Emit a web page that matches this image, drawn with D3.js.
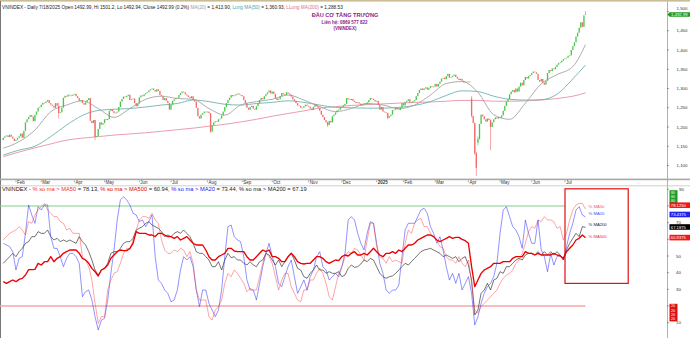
<!DOCTYPE html>
<html>
<head>
<meta charset="utf-8">
<script src="https://cdn.jsdelivr.net/npm/d3@7"></script>
<style>
html, body { margin: 0; padding: 0; background: #fff; }
svg { display: block; font-family: "Liberation Sans", Arial, sans-serif; }
</style>
</head>
<body>
<svg id="chart" width="690" height="338"></svg>
<script>
// ---------- trading calendar (HOSE) ----------
const firstSession = "2024-01-22";
const lastSession = "2025-07-18";
const holidays = ["2024-02-08","2024-02-09","2024-02-12","2024-02-13","2024-02-14","2024-04-18",
  "2024-04-29","2024-04-30","2024-05-01","2024-09-02","2024-09-03","2025-01-01","2025-01-27",
  "2025-01-28","2025-01-29","2025-01-30","2025-01-31","2025-04-07","2025-04-30","2025-05-01","2025-05-02"];

// ---------- VN-Index daily sessions ----------
const opens = [
  1166,1172,1176,1178,1174,1180,1175,1170,
  1164,1167,1172,1176,1183,1172,1190,1212,1220,1226,1231,1227,1215,1232,1240,1250,
  1252,1258,1263,1262,1266,1270,1262,1258,1255,1250,1262,1255,1236,1238,1250,1276,1281,1279,1284,1282,1281,
  1284,1286,1280,1275,1268,1270,1262,1258,1264,1270,1275,1216,1210,1218,1174,1176,1195,1212,1206,
  1210,1220,1218,1221,1242,1246,1241,1236,1237,1240,1252,1266,1273,1279,1278,1281,1284,1270,1272,1274,1262,1254,
  1261,1277,1282,1280,1285,1288,1290,1295,1298,1300,1296,1292,1298,1294,1283,1280,1270,1275,1268,1262,
  1245,1258,1268,1272,1275,1276,1283,1288,1292,1290,1285,1282,1278,1275,1280,1270,1266,1250,1228,1222,1232,1236,1240,
  1238,1240,1236,1188,1205,1212,1215,1214,1220,1222,1230,1240,1252,1262,1270,1276,1283,1280,1282,1285,1287,1284,
  1283,1280,1270,1262,1250,1245,1252,1255,1248,1245,1254,1262,1270,1275,1272,1280,1285,1290,1295,
  1287,1292,1286,1275,1270,1272,1280,1288,1285,1283,1290,1287,1284,1279,1272,1268,1262,1256,1255,1250,1250,1254,1258,
  1255,1253,1248,1244,1252,1258,1254,1250,1242,1232,1226,1218,1212,1205,1216,1212,1228,1232,1238,1243,1245,
  1250,1252,1256,1260,1275,1272,1270,1273,1268,1265,1262,1264,1261,1256,1258,1261,1259,1264,1270,1275,1273,1270,
  1266,1268,1257,1245,1252,1240,1238,1236,1224,1228,1232,1244,1245,1250,1246,1244,1250,
  1262,1256,1265,1268,1272,1264,1264,1267,1270,1280,1288,1296,1300,1296,1300,1303,1297,1301,1306,1304,
  1305,1312,1305,1312,1318,1326,1328,1324,1332,1338,1328,1330,1333,1336,1330,1326,1322,1325,1320,1316,1318,
  1317,1318,1274,1229,1210,1132,1160,1168,1208,1232,1228,1220,1214,1222,1218,1200,1212,1220,1225,1222,
  1226,1224,1230,1242,1255,1266,1272,1285,1292,1296,1290,1300,1292,1305,1315,1308,1322,1330,1326,1332,
  1335,1340,1344,1342,1338,1322,1318,1325,1315,1310,1320,1340,1348,1345,1352,1350,1356,1362,1366,1368,1372,
  1376,1378,1380,1385,1386,1400,1410,1420,1435,1445,1458,1472,1460,1492.99
];
const closes = [
  1172,1176,1178,1174,1180,1175,1170,1164,
  1167,1172,1176,1183,1172,1190,1212,1220,1226,1231,1227,1215,1232,1240,1250,1252,
  1258,1263,1262,1266,1270,1262,1258,1255,1250,1262,1255,1236,1238,1250,1276,1281,1279,1284,1282,1281,1284,
  1286,1280,1275,1268,1270,1262,1258,1264,1270,1275,1216,1210,1218,1174,1176,1195,1212,1206,1210,
  1220,1218,1221,1242,1246,1241,1236,1237,1240,1252,1266,1273,1279,1278,1281,1284,1270,1272,1274,1262,1254,1261,
  1277,1282,1280,1285,1288,1290,1295,1298,1300,1296,1292,1298,1294,1283,1280,1270,1275,1268,1262,1245,
  1258,1268,1272,1275,1276,1283,1288,1292,1290,1285,1282,1278,1275,1280,1270,1266,1250,1228,1222,1232,1236,1240,1238,
  1240,1236,1188,1205,1212,1215,1214,1220,1222,1230,1240,1252,1262,1270,1276,1283,1280,1282,1285,1287,1284,1283,
  1280,1270,1262,1250,1245,1252,1255,1248,1245,1254,1262,1270,1275,1272,1280,1285,1290,1295,1287,
  1292,1286,1275,1270,1272,1280,1288,1285,1283,1290,1287,1284,1279,1272,1268,1262,1256,1255,1250,1250,1254,1258,1255,
  1253,1248,1244,1252,1258,1254,1250,1242,1232,1226,1218,1212,1205,1216,1212,1228,1232,1238,1243,1245,1250,
  1252,1256,1260,1275,1272,1270,1273,1268,1265,1262,1264,1261,1256,1258,1261,1259,1264,1270,1275,1273,1270,1266,
  1268,1257,1245,1252,1240,1238,1236,1224,1228,1232,1244,1245,1250,1246,1244,1250,1262,
  1256,1265,1268,1272,1264,1264,1267,1270,1280,1288,1296,1300,1296,1300,1303,1297,1301,1306,1304,1305,
  1312,1305,1312,1318,1326,1328,1324,1332,1338,1328,1330,1333,1336,1330,1326,1322,1325,1320,1316,1318,1317,
  1318,1317,1229,1210,1132,1094,1168,1208,1232,1228,1220,1214,1222,1218,1200,1212,1220,1225,1222,1226,
  1224,1230,1242,1255,1266,1272,1285,1292,1296,1290,1300,1292,1305,1315,1308,1322,1330,1326,1332,1335,
  1340,1344,1342,1338,1322,1318,1325,1315,1310,1320,1340,1348,1345,1352,1350,1356,1362,1366,1368,1372,1376,
  1378,1380,1385,1386,1400,1410,1420,1435,1445,1458,1472,1460,1490,1492.99
];
// intraday extremes [high, low] for sessions whose range extends past the body
const wicks = {
  "2024-03-18": [1263, 1222],
  "2024-04-19": [1218, 1166],
  "2024-08-05": [1236, 1185],
  "2024-11-19": [1214, 1200],
  "2025-01-13": [1237, 1220],
  "2025-04-03": [1280, 1225],
  "2025-04-08": [1212, 1128],
  "2025-04-09": [1135, 1073],
  "2025-04-10": [1175, 1152],
  "2025-04-22": [1220, 1140],
  "2025-07-18": [1501.2, 1492.94]
};

// moving averages, one value every 10 sessions plus the final session
const maEvery = 10;
const ma20 = [1145,1162,1192,1240,1257,1268,1248,1225,1248,1272,1280,1274,1272,1248,1231,1257,1266,1272,1283,1270,
  1253,1240,1248,1261,1257,1248,1257,1283,1313,1318,1290,1232,1220,1262,1312,1336,1357,1413.90];
const ma50 = [1127,1140,1150,1175,1205,1230,1243,1246,1248,1252,1257,1261,1270,1266,1259,1257,1261,1264,1268,1264,
  1257,1251,1250,1249,1249,1251,1256,1266,1282,1294,1292,1280,1272,1270,1271,1285,1325,1360.93];
const ma200 = [1123,1135,1146,1156,1166,1171,1175,1179,1182,1185,1189,1193,1197,1202,1207,1213,1220,1228,1235,1242,
  1249,1253,1256,1258,1260,1262,1264,1265,1267,1269,1269,1267,1267,1268,1270,1274,1280,1288.53];

// market breadth: % of stocks above each moving average, every 2nd session
const breadthEvery = 2;
const pctMA20 = [57.6,56.6,55.6,52.6,41.6,48.6,49.6,63.6,80.6,74.6,69.6,79.6,77.6,80.6,80.6,61.6,54.6,54.6,49.6,43.6,
  48.6,51.6,51.6,49.6,45.6,25.6,28.6,29.6,23.6,13.6,5.6,11.6,12.6,23.6,39.6,53.6,71.6,83.6,85.6,83.6,
  80.6,75.6,74.6,70.6,71.6,67.6,70.6,74.6,49.6,35.6,33.6,29.6,27.6,22.6,23.6,29.6,41.6,49.6,47.6,49.6,
  43.6,29.6,19.6,29.6,29.6,21.6,17.6,13.6,17.6,29.6,49.6,67.6,
  68.6,61.6,59.6,58.6,49.6,35.6,29.6,29.6,23.6,33.6,43.6,51.6,57.6,49.6,43.6,33.6,31.6,37.6,43.6,47.6,
  37.6,27.6,31.6,35.6,29.6,37.6,41.6,49.6,52.6,43.6,41.6,35.6,37.6,39.6,37.6,43.6,51.6,71.6,73.6,71.6,
  63.6,57.6,53.6,63.6,70.6,69.6,57.6,45.6,39.6,29.6,27.6,29.6,29.6,32.6,49.6,65.6,69.6,69.6,69.6,73.6,
  77.6,78.6,75.6,
  67.6,63.6,57.6,61.6,53.6,43.6,35.6,39.6,33.6,39.6,29.6,33.6,37.6,27.6,8.6,13.6,21.6,27.6,31.6,33.6,
  37.6,45.6,63.6,77.6,79.6,73.6,67.6,65.6,61.6,54.6,71.6,63.6,57.6,57.6,71.6,53.6,49.6,40.6,51.6,44.6,
  49.6,50.6,47.6,55.6,63.6,69.6,77.6,79.6,74.6,73.4375];
const pctMA50 = [59.6,61.6,63.6,64.6,65.6,67.6,65.6,62.6,70.6,69.6,74.6,77.6,79.6,81.6,77.6,75.6,73.6,73.6,70.6,69.6,
  65.6,66.6,63.6,63.6,63.6,49.6,47.6,43.6,35.6,21.6,9.6,13.6,13.6,29.6,35.6,39.6,40.6,45.6,51.6,54.6,
  53.6,59.6,65.6,71.6,73.6,73.6,72.6,75.6,71.6,69.6,59.6,53.6,51.6,51.6,53.6,52.6,54.6,53.6,49.6,52.6,
  45.6,29.6,23.6,23.6,23.6,13.6,11.6,17.6,19.6,23.6,33.6,39.6,
  37.6,41.6,39.6,36.6,33.6,28.6,30.6,29.6,29.6,37.6,45.6,51.6,49.6,45.6,37.6,29.6,35.6,39.6,39.6,31.6,
  27.6,23.6,22.6,29.6,29.6,35.6,35.6,39.6,42.6,39.6,33.6,25.6,23.6,31.6,39.6,43.6,49.6,52.6,51.6,54.6,
  53.6,50.6,47.6,59.6,69.6,69.6,55.6,49.6,48.6,45.6,49.6,46.6,47.6,46.6,45.6,57.6,65.6,63.6,69.6,71.6,
  72.6,67.6,67.6,
  63.6,61.6,59.6,55.6,54.6,49.6,47.6,47.6,45.6,49.6,45.6,43.6,47.6,33.6,17.6,15.6,19.6,21.6,23.6,25.6,
  27.6,29.6,33.6,36.6,38.6,39.6,41.6,45.6,47.6,51.6,57.6,64.6,67.6,66.6,71.6,70.6,73.6,71.6,71.6,70.6,
  66.6,67.6,59.6,63.6,71.6,77.6,80.6,81.6,81.6,78.125];
const pctMA200 = [45.6,47.6,49.6,51.6,49.6,52.6,54.6,57.6,58.6,61.6,61.6,64.6,63.6,63.6,65.6,61.6,59.6,60.6,58.6,59.6,
  58.6,59.6,58.6,57.6,61.6,58.6,56.6,52.6,47.6,41.6,38.6,41.6,42.6,45.6,51.6,52.6,52.6,54.6,57.6,58.6,
  58.6,60.6,65.6,66.6,67.6,69.6,70.6,68.6,67.6,66.6,64.6,61.6,62.6,61.6,63.6,64.6,63.6,65.6,63.6,61.6,
  57.6,52.6,51.6,51.6,49.6,47.6,43.6,43.6,46.6,41.6,47.6,51.6,
  49.0,49.6,47.6,47.6,45.6,44.6,46.6,44.6,43.6,46.6,47.6,51.6,50.6,47.6,44.6,47.6,43.6,46.6,49.6,51.6,
  47.6,42.6,41.6,37.6,36.6,39.6,41.6,44.6,41.6,41.6,39.6,40.6,39.6,39.6,40.6,37.6,38.6,42.6,44.6,43.2,
  43.6,45.2,47.6,46.6,48.6,47.6,43.6,39.6,37.6,36.6,37.6,38.0,39.6,41.6,43.6,45.6,44.6,46.6,48.6,50.6,
  52.6,53.6,54.0,
  54.6,53.6,52.6,51.6,49.6,50.6,49.6,48.6,49.6,46.6,48.6,49.6,44.6,35.6,14.6,17.6,27.6,29.6,33.6,29.6,
  35.6,36.6,40.6,39.6,43.6,43.6,45.6,47.6,48.6,47.6,50.6,51.6,51.6,50.6,52.6,50.6,52.6,50.6,52.6,50.6,
  52.6,50.6,47.6,53.6,57.6,60.6,63.6,61.6,67.6,67.1875];
const pctMA500 = [34.6,33.6,34.6,35.6,34.6,36.0,36.6,38.6,41.8,41.8,42.0,45.6,44.6,46.6,46.6,49.6,46.6,48.6,49.6,51.6,
  52.6,53.6,53.6,53.6,51.6,48.6,47.6,45.6,42.6,40.6,38.0,41.6,42.6,44.6,48.6,50.6,52.6,53.6,53.2,53.2,
  54.6,57.6,64.6,63.6,63.6,63.6,62.6,62.6,61.6,63.6,63.6,62.6,61.6,61.6,60.6,61.6,59.6,60.6,61.6,59.6,
  57.6,56.6,56.6,56.6,53.6,49.6,47.6,47.6,49.6,50.6,51.6,54.6,
  54.6,53.0,52.6,52.6,52.6,49.6,47.6,47.6,49.6,51.6,53.6,52.6,53.6,49.6,49.6,48.6,46.6,46.6,49.6,51.6,
  49.6,46.6,45.6,45.2,45.6,45.6,47.6,49.6,49.6,48.6,46.6,45.6,46.6,47.6,47.2,49.6,50.6,50.0,51.6,52.6,
  50.6,50.6,51.6,50.6,52.6,54.6,52.6,50.6,49.6,51.6,51.6,52.6,51.6,53.6,52.6,54.6,56.6,56.6,57.6,59.6,
  60.6,61.6,62.6,
  62.6,61.6,59.6,58.6,59.6,60.6,61.6,60.6,61.2,61.2,60.0,59.2,57.6,43.6,31.6,35.6,39.6,41.6,42.6,43.6,
  45.6,45.6,45.6,46.6,46.6,46.6,48.6,49.6,49.6,49.6,52.6,51.6,51.6,50.6,51.6,50.6,50.6,50.6,50.6,51.6,
  50.6,50.0,48.6,52.6,54.6,56.6,59.6,60.6,62.6,60.9375];

const priceTicks = [1100,1150,1200,1250,1300,1350,1400,1450,1500];
const breadthGrid = [10,20,30,40,50,60,70,80,90];
// 20, 60 and 80 sit under the level / value tags on the breadth axis
const breadthLabels = [10,30,40,50,70,90];
const overbought = 80, oversold = 20;

// ---------- layout ----------
const W = 690, H = 338, plotR = 667;
const svg = d3.select("#chart");

const parse = d3.utcParse("%Y-%m-%d"), fmt = d3.utcFormat("%Y-%m-%d");
const hol = new Set(holidays);
const sessions = d3.utcDay.range(parse(firstSession), d3.utcDay.offset(parse(lastSession), 1))
  .filter(d => d.getUTCDay() !== 0 && d.getUTCDay() !== 6 && !hol.has(fmt(d)))
  .map(fmt);

const x = d3.scalePoint().domain(sessions).range([3.3, 585.5]);
const yP = d3.scaleLinear().domain([1100, 1500]).range([165.5, 11.5]);
const yB = d3.scaleLinear().domain([10, 90]).range([322.7, 189.3]);

const bars = sessions.map((s, i) => ({ s, o: opens[i], c: closes[i], w: wicks[s] }));
const maPts = arr => arr.map((v, k) => ({ s: sessions[Math.min(k * maEvery, sessions.length - 1)], v }));
const brPts = arr => arr.map((v, k) => ({ s: sessions[k * breadthEvery], v }));
const lastOf = a => a[a.length - 1];

// scale a one-line caption's font so it spans the given width
const fitWidth = (sel, width) => {
  const base = +sel.attr("font-size");
  const len = sel.node().getComputedTextLength();
  if (len > 0) sel.attr("font-size", (base * width / len).toFixed(3));
};

const defs = svg.append("defs");
defs.append("clipPath").attr("id", "clipTop").append("rect").attr("x", 0).attr("y", 3).attr("width", plotR).attr("height", 176);
defs.append("clipPath").attr("id", "clipBot").append("rect").attr("x", 0).attr("y", 186.5).attr("width", plotR).attr("height", 152);

// frame
svg.append("rect").attr("x", 0).attr("y", 0).attr("width", W).attr("height", 1.6).attr("fill", "#c9bd95");
svg.append("line").attr("x1", 0.5).attr("x2", 0.5).attr("y1", 1).attr("y2", H).attr("stroke", "#777").attr("stroke-width", 1);
svg.append("line").attr("x1", plotR + 0.5).attr("x2", plotR + 0.5).attr("y1", 1.5).attr("y2", H).attr("stroke", "#b0b0b0").attr("stroke-width", 1);
svg.append("rect").attr("x", 0).attr("y", 178.6).attr("width", W).attr("height", 1.6).attr("fill", "#a8a8a8");
svg.append("line").attr("x1", 0).attr("x2", W).attr("y1", 185.8).attr("y2", 185.8).attr("stroke", "#c4c4c4").attr("stroke-width", 0.8);

// ---------- price panel ----------
const priceG = svg.append("g").attr("clip-path", "url(#clipTop)");
const lineP = d3.line().x(d => x(d.s)).y(d => yP(d.v)).curve(d3.curveMonotoneX);
[[ma200, "#e892a4"], [ma50, "#6fb3b1"], [ma20, "#a4a4a4"]].forEach(([arr, col]) => {
  priceG.append("path").datum(maPts(arr)).attr("d", lineP).attr("fill", "none").attr("stroke", col).attr("stroke-width", 0.9);
});

const upCol = "#46c646", dnCol = "#f06a6a";
const cg = priceG.append("g");
cg.selectAll("line.wick").data(bars.filter(b => b.w)).join("line")
  .attr("x1", b => x(b.s)).attr("x2", b => x(b.s))
  .attr("y1", b => yP(b.w[0])).attr("y2", b => yP(b.w[1]))
  .attr("stroke", b => b.c >= b.o ? upCol : dnCol).attr("stroke-width", 0.6);
cg.selectAll("rect.body").data(bars).join("rect")
  .attr("x", b => x(b.s) - 0.65).attr("width", 1.3)
  .attr("y", b => yP(Math.max(b.o, b.c)))
  .attr("height", b => Math.max(0.7, Math.abs(yP(b.o) - yP(b.c))))
  .attr("fill", b => b.c >= b.o ? upCol : dnCol);

// price axis
const pa = svg.append("g").attr("font-size", 4.4).attr("fill", "#333");
priceTicks.forEach(t => {
  pa.append("line").attr("x1", plotR).attr("x2", plotR + 2).attr("y1", yP(t)).attr("y2", yP(t)).attr("stroke", "#666").attr("stroke-width", 0.6);
  // the top label is nudged up so the last-price tag does not cover it
  pa.append("text").attr("x", 676.5).attr("y", yP(t) + (t === 1500 ? -1.2 : 1.5)).text(d3.format(",")(t));
});
const lastBar = lastOf(bars);
const tagY = yP(lastBar.c) + 0.3;
svg.append("path").attr("d", `M${plotR + 0.5},${tagY} L${plotR + 2.5},${tagY - 2.3} H690 V${tagY + 2.3} H${plotR + 2.5} Z`).attr("fill", "#1f9a1f");
svg.append("text").attr("x", 671).attr("y", tagY + 1.5).attr("font-size", 4.3).attr("fill", "#fff")
  .text(d3.format(",.2f")(lastBar.c));

// headline
const prevClose = bars[bars.length - 2].c;
const chg = (lastBar.c / prevClose - 1) * 100;
const hi = lastBar.w ? lastBar.w[0] : Math.max(lastBar.o, lastBar.c);
const lo = lastBar.w ? lastBar.w[1] : Math.min(lastBar.o, lastBar.c);
const d0 = parse(lastSession);
const f2 = d3.format(",.2f");
const head = svg.append("text").attr("x", 2).attr("y", 8.8).attr("font-size", 4.6).attr("fill", "#222");
head.append("tspan").text(`VNINDEX - Daily ${d0.getUTCMonth() + 1}/${d0.getUTCDate()}/${d0.getUTCFullYear()} Open ${lastBar.o}, Hi ${hi}, Lo ${lo}, Close ${lastBar.c} (${chg.toFixed(1)}%) `);
head.append("tspan").attr("fill", "#9a9a9a").text("MA(20)");
head.append("tspan").text(` = ${f2(lastOf(ma20))}, `);
head.append("tspan").attr("fill", "#4fa3a0").text("Long MA(50)");
head.append("tspan").text(` = ${f2(lastOf(ma50))}, `);
head.append("tspan").attr("fill", "#e0708a").text("LLong MA(200)");
head.append("tspan").text(` = ${f2(lastOf(ma200))}`);
fitWidth(head, 341);

const brand = svg.append("g").attr("fill", "#8a1a8a").attr("font-weight", "bold").attr("text-anchor", "middle");
brand.append("text").attr("x", 345).attr("y", 17).attr("font-size", 5.6).text("ĐẦU CƠ TĂNG TRƯỞNG");
brand.append("text").attr("x", 344.5).attr("y", 24).attr("font-size", 4.5).text("Liên hệ: 0869 577 822");
brand.append("text").attr("x", 345).attr("y", 30.2).attr("font-size", 4.5).text("(VNINDEX)");

// month axis
const monthStarts = sessions.filter((s, i) => i > 0 && s.slice(0, 7) !== sessions[i - 1].slice(0, 7));
const mAxis = svg.append("g").attr("font-size", 4.5).attr("fill", "#333");
monthStarts.forEach(s => {
  const d = parse(s);
  const isYear = d.getUTCMonth() === 0;
  mAxis.append("line").attr("x1", x(s)).attr("x2", x(s)).attr("y1", 180.4).attr("y2", 182.2).attr("stroke", "#555").attr("stroke-width", 0.5);
  mAxis.append("text").attr("x", x(s) + 1).attr("y", 184.3)
    .attr("font-weight", isYear ? "bold" : null)
    .text(isYear ? d3.utcFormat("%Y")(d) : d3.utcFormat("%b")(d));
});

// ---------- breadth panel ----------
const bt = svg.append("text").attr("x", 2).attr("y", 191.3).attr("font-size", 4.8).attr("fill", "#222");
bt.append("tspan").text("VNINDEX - ");
bt.append("tspan").attr("fill", "#f03030").text("% so ma > MA50");
bt.append("tspan").text(` = ${lastOf(pctMA50).toFixed(2)}, `);
bt.append("tspan").attr("fill", "#e00000").text("% so ma > MA500");
bt.append("tspan").text(` = ${lastOf(pctMA500).toFixed(2)}, `);
bt.append("tspan").attr("fill", "#2222ee").text("% so ma > MA20");
bt.append("tspan").text(` = ${lastOf(pctMA20).toFixed(2)}, % so ma > MA200 = ${lastOf(pctMA200).toFixed(2)}`);
fitWidth(bt, 305);

const botG = svg.append("g").attr("clip-path", "url(#clipBot)");
const xEnd = x(lastOf(sessions));
botG.append("line").attr("x1", 0).attr("x2", xEnd).attr("y1", yB(overbought)).attr("y2", yB(overbought))
  .attr("stroke", "#86cc86").attr("stroke-width", 1.1);
botG.append("line").attr("x1", 0).attr("x2", xEnd).attr("y1", yB(oversold)).attr("y2", yB(oversold))
  .attr("stroke", "#f5a8a8").attr("stroke-width", 1.5);

// highlight box around the latest breakout
botG.append("rect").attr("x", 565).attr("y", 188.8).attr("width", 63.2).attr("height", 94.6)
  .attr("fill", "#fff").attr("stroke", "#e01010").attr("stroke-width", 1.2);

const lineB = d3.line().x(d => x(d.s)).y(d => yB(d.v));
const series = [
  { arr: pctMA200, col: "#1a1a1a", op: 0.72, w: 0.85, name: "% MA200" },
  { arr: pctMA20, col: "#3030ff", op: 0.62, w: 0.85, name: "% MA20" },
  { arr: pctMA50, col: "#ff2a2a", op: 0.5, w: 0.85, name: "% MA50" },
  { arr: pctMA500, col: "#ee0000", op: 1, w: 1.35, name: "% MA500" }
];
series.forEach(sr => {
  botG.append("path").datum(brPts(sr.arr)).attr("d", lineB).attr("fill", "none")
    .attr("stroke", sr.col).attr("stroke-opacity", sr.op).attr("stroke-width", sr.w).attr("stroke-linejoin", "round");
});

// end-of-line names
const nameCol = { "% MA50": "#f25a5a", "% MA20": "#4b4bf0", "% MA200": "#222", "% MA500": "#e83030" };
const nameY = { "% MA50": 207.5, "% MA20": 214.8, "% MA200": 225.8, "% MA500": 237.8 };
series.forEach(sr => {
  svg.append("text").attr("x", xEnd + 3).attr("y", nameY[sr.name]).attr("font-size", 4.2)
    .attr("fill", nameCol[sr.name]).text(sr.name);
});

// breadth axis
const ba = svg.append("g").attr("font-size", 4.4).attr("fill", "#333");
breadthGrid.forEach(t => {
  ba.append("line").attr("x1", plotR).attr("x2", plotR + 2).attr("y1", yB(t)).attr("y2", yB(t)).attr("stroke", "#666").attr("stroke-width", 0.6);
});
breadthLabels.forEach(t => {
  ba.append("text").attr("x", t === 90 ? 679 : 676).attr("y", yB(t) + 1.5).text(t);
});

// level tags
const levelTag = (y0, n, label, fill) => {
  svg.append("rect").attr("x", 669.5).attr("y", y0).attr("width", 8).attr("height", n * 4.2 + 0.8).attr("fill", fill);
  for (let k = 0; k < n; k++) {
    svg.append("text").attr("x", 671).attr("y", y0 + 3.6 + k * 4.2).attr("font-size", 3.6).attr("fill", "#fff").text(label);
  }
};
levelTag(190.2, 3, overbought, "#1e9a1e");
levelTag(303.8, 4, oversold, "#e01010");

// value tags
const valTag = (yc, fill, v) => {
  svg.append("rect").attr("x", 669.5).attr("y", yc - 2.8).attr("width", 21).attr("height", 5.6).attr("fill", fill);
  svg.append("text").attr("x", 670.8).attr("y", yc + 1.5).attr("font-size", 4.2).attr("fill", "#fff").text(v.toFixed(4));
};
valTag(205.2, "#f01818", lastOf(pctMA50));
valTag(214.5, "#2020f0", lastOf(pctMA20));
valTag(227, "#000", lastOf(pctMA200));
valTag(237.6, "#f01818", lastOf(pctMA500));
</script>
</body>
</html>
